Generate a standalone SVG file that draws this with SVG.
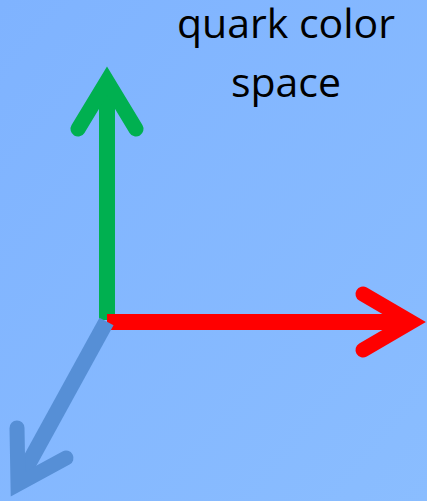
<svg xmlns="http://www.w3.org/2000/svg" width="427" height="501" viewBox="0 0 427 501">
  <defs>
    <linearGradient id="bg" x1="0" y1="0" x2="1" y2="1">
      <stop offset="0" stop-color="#7fb3ff"/>
      <stop offset="1" stop-color="#8abdff"/>
    </linearGradient>
    <style>
      .shaft { fill: none; stroke-width: 16; stroke-linecap: butt; }
      .head { fill: none; stroke-width: 15; stroke-linecap: round; stroke-linejoin: miter; stroke-miterlimit: 10; }
      .label { font-family: "Open Sans", "Noto Sans", "Liberation Sans", sans-serif; font-size: 41px; fill: #000; text-anchor: middle; }
    </style>
  </defs>
  <rect width="427" height="501" fill="url(#bg)"/>
  <g id="title">
    <text class="label" x="286" y="38">quark color</text>
    <text class="label" x="286" y="97">space</text>
  </g>
  <g id="connectors">
    <g id="green-axis" stroke="#00b050">
      <line class="shaft" x1="107" y1="320" x2="107" y2="84"/>
      <polyline class="head" points="78,129 107,81 136,129"/>
    </g>
    <g id="red-axis" stroke="#ff0000">
      <line class="shaft" x1="107" y1="322" x2="408" y2="322"/>
      <polyline class="head" points="363,294 411,322 363,350"/>
    </g>
    <g id="blue-axis" stroke="#568fd6">
      <line class="shaft" x1="106.5" y1="321.5" x2="20" y2="479"/>
      <polyline class="head" points="17,428 18,484 66,458"/>
    </g>
  </g>
</svg>
